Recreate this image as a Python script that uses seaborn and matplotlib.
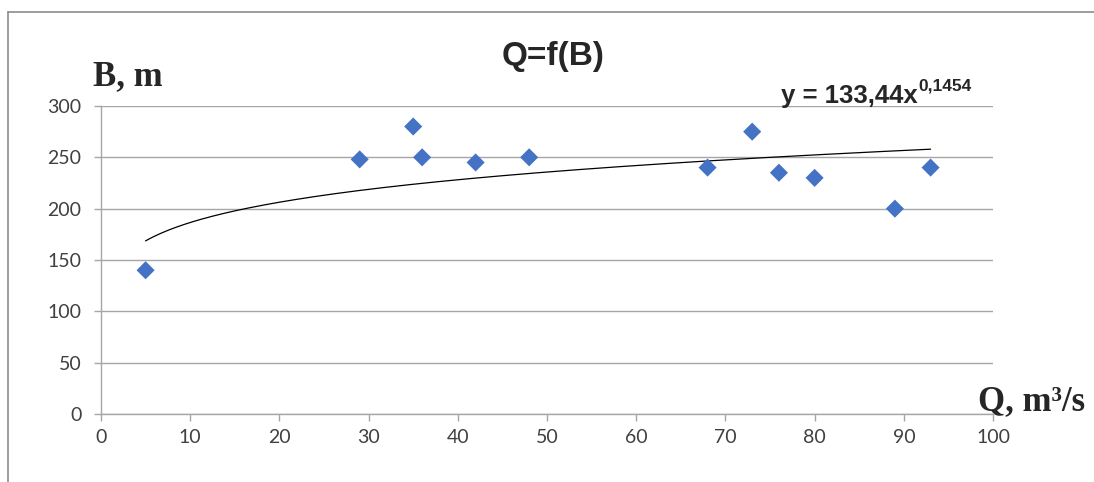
import numpy as np
import pandas as pd
import matplotlib.pyplot as plt
from matplotlib.lines import Line2D
import seaborn as sns

# Discharge Q (m3/s) and river width B (m)
q_values = [5, 29, 35, 36, 42, 48, 68, 73, 76, 80, 89, 93]
b_values = [140, 248, 280, 250, 245, 250, 240, 275, 235, 230, 200, 240]

# Power trendline y = a * x^b
trend_a = 133.44
trend_b = 0.1454

x_ticks = list(range(0, 101, 10))
y_ticks = list(range(0, 301, 50))

df = pd.DataFrame({'Q': q_values, 'B': b_values})
trend_x = np.linspace(min(q_values), max(q_values), 200)
trend_df = pd.DataFrame({'Q': trend_x, 'B': trend_a * trend_x ** trend_b})

sns.set_theme(style="white")
plt.rcParams['font.family'] = ['Lato', 'DejaVu Sans']

fig = plt.figure(figsize=(10.94, 4.82), dpi=100)
ax = fig.add_axes([0.0923, 0.1411, 0.8154, 0.639])

sns.lineplot(x='Q', y='B', data=trend_df, ax=ax, color='black', linewidth=0.9)
sns.scatterplot(x='Q', y='B', data=df, ax=ax, marker='D', s=85,
                color='#4472C4', edgecolor='none', zorder=3)

ax.set_xlim(0, 100)
ax.set_ylim(0, 300)
ax.set_xticks(x_ticks)
ax.set_yticks(y_ticks)
ax.grid(axis='y', color='#a6a6a6', linewidth=1)
ax.set_axisbelow(True)
ax.set_xlabel('')
ax.set_ylabel('')

for side in ['top', 'right']:
    ax.spines[side].set_visible(False)
for side in ['left', 'bottom']:
    ax.spines[side].set_color('#a6a6a6')
    ax.spines[side].set_linewidth(1)

ax.tick_params(axis='both', which='major', length=5, width=1, color='#a6a6a6',
               labelsize=14, labelcolor='#404040', direction='out',
               bottom=True, left=True)
ax.tick_params(axis='x', pad=6)
ax.tick_params(axis='y', pad=9)

bold_sans = ['Liberation Sans', 'DejaVu Sans']

# title
fig.text(0.5055, 0.882, 'Q=f(B)', fontsize=24, fontweight='bold',
         fontfamily=bold_sans, ha='center', va='center')

# axis names in serif bold
fig.text(0.085, 0.8237, 'B, m', fontsize=25, fontweight='bold',
         fontfamily='Liberation Serif', ha='left', va='baseline')
fig.text(0.894, 0.149, 'Q, m³/s', fontsize=25, fontweight='bold',
         fontfamily='Liberation Serif', ha='left', va='baseline')

# trendline equation with superscript exponent
eq = fig.text(0.714, 0.786, 'y = 133,44x', fontsize=18.5, fontweight='bold',
              fontfamily=bold_sans, ha='left', va='baseline')
ax.annotate('0,1454', xy=(1.005, 0.6), xycoords=eq, fontsize=12.5,
            fontweight='bold', fontfamily=bold_sans, ha='left', va='bottom',
            annotation_clip=False)

# outer chart frame
fig.add_artist(Line2D([0.0073, 1.0], [0.975, 0.975], color='#8c8c8c', linewidth=1.2))
fig.add_artist(Line2D([0.0073, 0.0073], [0.0, 0.975], color='#8c8c8c', linewidth=1.2))

plt.savefig('out.png', dpi=100)
plt.close()
